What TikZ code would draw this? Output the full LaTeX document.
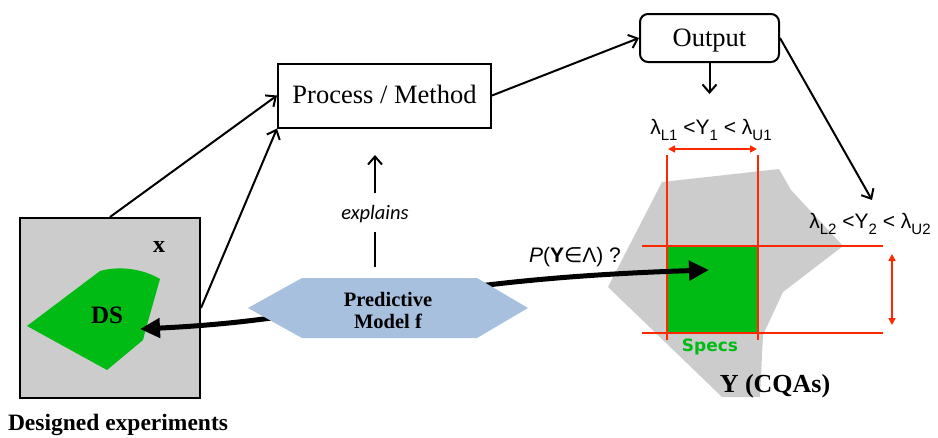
\documentclass[tikz,border=0pt]{standalone}
\usepackage{fontspec}
\setmainfont{Liberation Serif}
\setsansfont{Liberation Sans}
\newfontfamily\dejavu{DejaVu Sans}
\newfontfamily\carlito{Carlito}
\usetikzlibrary{arrows.meta}
\definecolor{boxgray}{RGB}{204,204,204}
\definecolor{dsgreen}{RGB}{0,187,20}
\definecolor{hexblue}{RGB}{167,192,222}
\definecolor{specred}{RGB}{255,40,0}
\newcommand{\mysub}[1]{\raisebox{-0.28em}{\fontsize{15}{17}\selectfont #1}}
\tikzset{
  thinarrow/.style={line width=2pt,-{Straight Barb[length=8pt,width=14pt]}},
  thickarrow/.style={line width=5pt,{Triangle[length=20pt,width=19pt]}-{Triangle[length=20pt,width=19pt]}},
  redline/.style={specred,line width=1.6pt},
  redarrow/.style={specred,line width=1.6pt,{Triangle[length=7pt,width=7pt]}-{Triangle[length=7pt,width=7pt]}},
  framebox/.style={draw,line width=2pt,inner sep=0pt},
  serifbig/.style={font=\fontsize{26.5}{30}\selectfont},
  serifbold/.style={font=\bfseries\fontsize{24}{28}\selectfont},
  sanslabel/.style={font=\sffamily\fontsize{21}{24}\selectfont},
}
\begin{document}
\begin{tikzpicture}[x=1pt,y=-1pt]
\useasboundingbox (0,0) rectangle (938,437);

% ---- Y space (right) ----
\fill[boxgray] (662,182) -- (779,169) -- (791,190) -- (843,246) -- (783,292) -- (763,335) -- (760,397) -- (722,397) -- (608,287) -- cycle;
\fill[dsgreen] (667,246) rectangle (758,333);
\draw[redline] (667,155) -- (667,340);
\draw[redline] (758,155) -- (758,340);
\draw[redline] (642,246) -- (883,246);
\draw[redline] (642,333) -- (883,333);
\coordinate (h1a) at (668,149);
\coordinate (h1b) at (757,149);
\coordinate (v2a) at (892,254);
\coordinate (v2b) at (892,325);
\draw[redarrow] (h1a) -- (h1b);
\draw[redarrow] (v2a) -- (v2b);

\node[sanslabel] (lam1) at (711,130) {λ\mysub{L1} <Y\mysub{1} < λ\mysub{U1}};
\node[sanslabel] (lam2) at (870,224) {λ\mysub{L2} <Y\mysub{2} < λ\mysub{U2}};
\node[font=\dejavu\bfseries\fontsize{17}{20}\selectfont,text=dsgreen] (specs) at (710,347) {Specs};
\node[font=\bfseries\fontsize{26}{30}\selectfont] (ycqa) at (775,386) {Y (CQAs)};

% ---- design space box ----
\node[framebox,fill=boxgray,minimum width=180pt,minimum height=180pt] (xbox) at (110,308) {};
\fill[dsgreen] (27,326) -- (100,271) .. controls (122,265) and (145,270) .. (160,279) -- (145,332) -- (143,340) -- (107,370) -- cycle;
\node[serifbold] (xlab) at (159,247) {x};
\node[font=\bfseries\fontsize{25}{28}\selectfont] (dslab) at (107,315) {DS};
\node[font=\bfseries\fontsize{23.5}{26}\selectfont] (dexp) at (118,425) {Designed experiments};

% ---- process & output ----
\node[framebox,minimum width=213pt,minimum height=64pt,serifbig,text depth=2pt] (pm) at (384.5,95.5) {Process / Method};
\node[framebox,rounded corners=8pt,minimum width=139pt,minimum height=48pt,serifbig,text depth=0pt] (out) at (709.5,38) {Output};

\draw[thinarrow] (xbox.north) -- (pm.west);
\draw[thinarrow] (xbox.east) -- (pm.south west);
\draw[thinarrow] (pm.east) -- (out.west);
\coordinate (outdown) at (709.5,94);
\draw[thinarrow] (out.south) -- (outdown);
\coordinate (lam2top) at (872,200);
\draw[thinarrow] (out.east) -- (lam2top);

% ---- thick arrow ----
\coordinate (dsin) at (140,329);
\coordinate (specin) at (709,270);
\draw[thickarrow] (dsin) .. controls (350,319) and (400,280) .. (specin);
\node[sanslabel] (plab) at (575,257) {\textit{P}(\textbf{Y}{\dejavu ∈}Λ) ?};

% ---- predictive model ----
\fill[hexblue] (248,308) -- (302,278) -- (477,278) -- (528,308) -- (477,338) -- (302,338) -- cycle;
\node[align=center,font=\bfseries\fontsize{20.5}{22}\selectfont] (pmod) at (388,310) {Predictive\\Model f};

% ---- explains ----
\coordinate (hextop) at (375,267);
\coordinate (exlow) at (375,232);
\coordinate (exup) at (375,193);
\coordinate (pmbelow) at (375,155);
\node[font=\carlito\itshape\fontsize{20.5}{22}\selectfont] (expl) at (375,214) {explains};
\draw[line width=2pt] (hextop) -- (exlow);
\draw[thinarrow] (exup) -- (pmbelow);
\end{tikzpicture}
\end{document}
